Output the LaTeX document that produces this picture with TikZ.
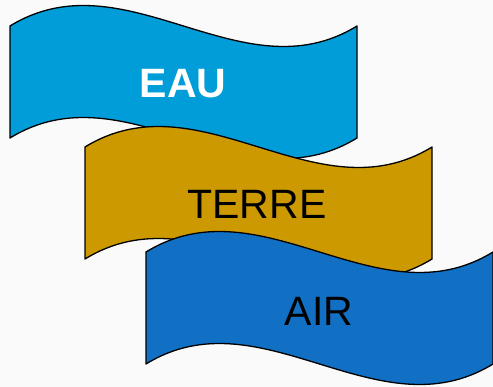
\documentclass[tikz,border=0pt]{standalone}
\usepackage{fontspec}
\setmainfont{Liberation Sans}
\usetikzlibrary{positioning}
\definecolor{eaublue}{HTML}{009DD9}
\definecolor{terregold}{HTML}{CC9900}
\definecolor{airblue}{HTML}{1170C4}
\definecolor{paper}{HTML}{FAFAFA}

\begin{document}
\begin{tikzpicture}[x=1pt, y=-1pt,
  band/.style={draw=black, line width=1.3pt, line join=round},
  lbl/.style={font=\fontsize{41}{41}\selectfont, text=black, inner sep=0pt}]
  \fill[paper] (0,0) rectangle (493,387);
  \useasboundingbox (0,0) rectangle (493,387);
  \clip (0,0) rectangle (493,387);
  % three waving banners, each one shifted down and right
  \foreach \dx/\dy/\c in {0/0/eaublue, 75/121/terregold, 136/226/airblue} {
    \draw[band, fill=\c, shift={(\dx,\dy)}]
      (10,26) .. controls (125.7,-45) and (241.3,97) .. (357,26)
      -- (357,138) .. controls (241.3,209) and (125.7,67) .. (10,138) -- cycle;
  }
  \node[lbl, text=white, font=\fontsize{41}{41}\selectfont\bfseries] (eau) at (183,84) {EAU};
  \node[lbl] (terre) at (257,204) {TERRE};
  \node[lbl] (air) at (319,311) {AIR};
\end{tikzpicture}
\end{document}
